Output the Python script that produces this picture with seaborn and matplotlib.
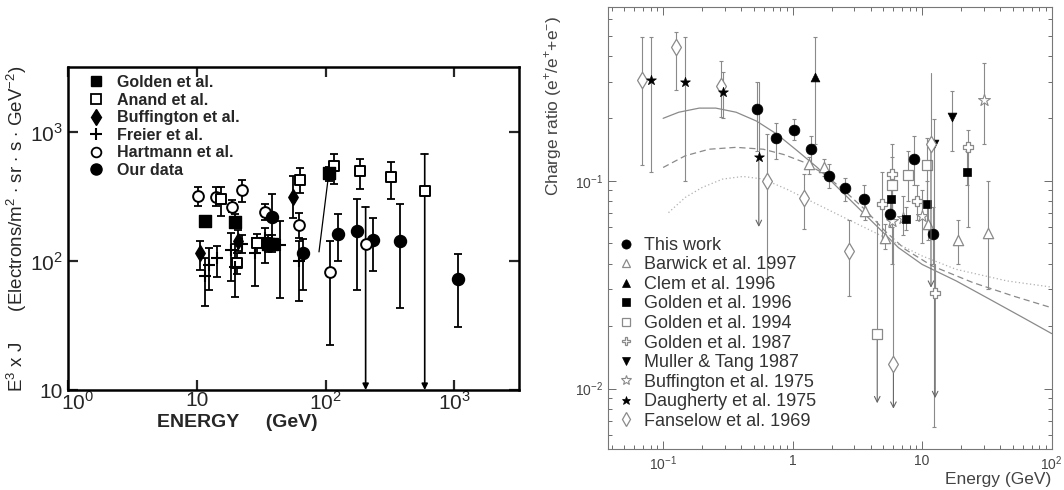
import numpy as np
import matplotlib
matplotlib.use('Agg')
import matplotlib.pyplot as plt
import matplotlib.transforms as mtransforms
from matplotlib.lines import Line2D
import seaborn as sns

sns.set_style('ticks')
plt.rcParams['font.family'] = ['Liberation Sans', 'DejaVu Sans']
plt.rcParams['mathtext.fontset'] = 'custom'
plt.rcParams['mathtext.rm'] = 'Liberation Sans'

# ---------------- left panel data: E^3 x J vs energy ----------------
golden_x = [11.5, 19.7, 35.5, 38.5, 106]
golden_y = [205, 203, 137, 137, 479]
golden_lo = [187, 182, 118, 118, 420]
golden_hi = [224, 231, 160, 160, 540]

anand_x = [15.5, 20.5, 29.4, 63.8, 116, 187, 321]
anand_y = [303, 97, 139, 426, 550, 497, 446]
anand_lo = [224, 80, 116, 340, 396, 362, 303]
anand_hi = [373, 115, 161, 524, 678, 619, 583]

buff_x = [10.6, 20.8, 55.6]
buff_y = [115, 143, 315]
buff_lo = [86, 120, 218]
buff_hi = [143, 175, 459]

freier_x = [11.6, 12.5, 14.3, 18.5, 19.9, 22.4, 28.1, 34, 44.6, 62]
freier_y = [76.5, 94, 105, 123, 90, 136, 115, 152, 133, 100]
freier_lo = [45, 60, 76, 70, 53, 115, 64, 97, 52, 49]
freier_hi = [106, 127, 131, 166, 135, 160, 152, 182, 205, 143]

hart_x = [10.2, 14.1, 18.7, 22.4, 34, 62.7, 108]
hart_y = [321, 317, 265, 356, 241, 191, 82.6]
hart_lo = [268, 268, 240, 290, 210, 150, 22.5]
hart_hi = [375, 375, 300, 425, 280, 235, 143]

ours_x = [38.4, 66.5, 126, 177, 235, 379, 1069]
ours_y = [221, 116, 161, 171, 146, 143, 73]
ours_lo = [135, 60, 100, 60, 84, 43, 31]
ours_hi = [330, 148, 231, 302, 218, 276, 114]

# points with a downward arrow to the axis
left_arrow_x = [205, 590]
left_arrow_y = [135, 351]
left_arrow_hi = [262, 678]
left_arrow_mk = ['o', 's']

# thin connecting line near 100 GeV
link_x = [89, 106]
link_y = [118, 479]

# ---------------- right panel data: positron fraction ----------------
tw_x = [0.53, 0.74, 1.03, 1.39, 1.9, 2.52, 3.58, 5.6, 8.6, 12.2]
tw_y = [0.222, 0.16, 0.176, 0.143, 0.106, 0.092, 0.082, 0.0696, 0.128, 0.0557]
tw_lo = [0.14, 0.128, 0.158, 0.12, 0.092, 0.08, 0.07, 0.06, 0.095, 0.04]
tw_hi = [0.30, 0.19, 0.198, 0.165, 0.12, 0.103, 0.095, 0.08, 0.165, 0.075]

barwick_x = [1.34, 1.74, 3.6, 5.16, 11.0, 18.8, 32.3]
barwick_y = [0.12, 0.117, 0.0717, 0.0532, 0.0618, 0.0518, 0.0564]
barwick_lo = [0.108, 0.105, 0.065, 0.047, 0.052, 0.04, 0.03]
barwick_hi = [0.13, 0.127, 0.078, 0.062, 0.075, 0.065, 0.1]

clem_x = [1.5]
clem_y = [0.315]
clem_lo = [0.15]
clem_hi = [0.495]

g96_x = [5.75, 7.5, 10.9, 22.3]
g96_y = [0.0816, 0.0658, 0.0772, 0.11]
g96_lo = [0.065, 0.058, 0.06, 0.095]
g96_hi = [0.1, 0.075, 0.1, 0.14]

g94_x = [5.8, 7.73, 10.9]
g94_y = [0.0953, 0.1066, 0.119]
g94_lo = [0.06, 0.08, 0.08]
g94_hi = [0.13, 0.14, 0.16]

g87_x = [4.9, 5.85, 9.12, 22.5]
g87_y = [0.0772, 0.108, 0.080, 0.146]
g87_lo = [0.05, 0.07, 0.065, 0.06]
g87_hi = [0.11, 0.15, 0.095, 0.175]

muller_x = [12.3, 17.1]
muller_y = [0.15, 0.204]
muller_lo = [0.0065, 0.14]
muller_hi = [0.198, 0.27]

buff75_x = [5.9, 7.07, 9.9, 29.9]
buff75_y = [0.064, 0.0665, 0.0678, 0.246]
buff75_lo = [0.04, 0.055, 0.05, 0.15]
buff75_hi = [0.08, 0.085, 0.09, 0.37]

daug_x = [0.0805, 0.1486, 0.292]
daug_y = [0.307, 0.298, 0.268]
daug_lo = [0.11, 0.10, 0.20]
daug_hi = [0.495, 0.495, 0.336]

fans_x = [0.0689, 0.1257, 0.281, 0.63, 1.22, 2.7]
fans_y = [0.306, 0.443, 0.287, 0.10, 0.083, 0.046]
fans_lo = [0.119, 0.274, 0.202, 0.034, 0.0585, 0.028]
fans_hi = [0.495, 0.52, 0.379, 0.169, 0.108, 0.0646]

# upper limits drawn as arrows: (x, y, top of bar, arrow tip, marker key)
ul_x = [0.548, 4.5, 6.0, 12.6, 11.7]
ul_y = [0.13, 0.0184, 0.01315, 0.0289, 0.15]
ul_hi = [0.30, 0.064, 0.06, 0.04, 0.33]
ul_tip = [0.06, 0.0085, 0.008, 0.009, 0.0306]
ul_key = ['daug', 'g94', 'fans', 'g87', 'fans']

# model curves
curve_solid_x = [0.1, 0.132, 0.19, 0.255, 0.366, 0.526, 0.754, 1.08, 1.55, 2.22,
                 3.19, 4.58, 6.56, 10, 18.3, 33.3, 60.6, 100]
curve_solid_y = [0.2, 0.214, 0.224, 0.224, 0.214, 0.194, 0.168, 0.14, 0.116, 0.093,
                 0.0744, 0.0596, 0.0477, 0.0396, 0.033, 0.0269, 0.0219, 0.0184]
curve_dash_x = [0.1, 0.148, 0.226, 0.366, 0.593, 0.85, 1.22, 1.75, 2.51, 3.6,
                5.16, 7.4, 12, 24.6, 50.5, 100]
curve_dash_y = [0.116, 0.132, 0.142, 0.145, 0.142, 0.134, 0.123, 0.108, 0.0895, 0.073,
                0.0574, 0.0468, 0.0389, 0.0324, 0.0279, 0.0245]
curve_dot_x = [0.11, 0.148, 0.2, 0.288, 0.413, 0.593, 0.9, 1.375, 2.22, 3.6,
               5.83, 10, 18.3, 45, 100]
curve_dot_y = [0.0703, 0.0832, 0.0929, 0.102, 0.105, 0.102, 0.0912, 0.080, 0.069, 0.0596,
               0.0514, 0.0435, 0.0375, 0.033, 0.0308]

GRAY = '#8a8a8a'


def draw(ax, x, y, lo, hi, marker, face, edge, size, ecolor, elw=1.2, cap=0, lw=1.0, z=3):
    x = np.asarray(x, float)
    y = np.asarray(y, float)
    err = [y - np.asarray(lo), np.asarray(hi) - y]
    ax.errorbar(x, y, yerr=err, fmt='none', ecolor=ecolor, elinewidth=elw,
                capsize=cap, capthick=elw, zorder=2)
    if marker in ['+', 'x']:
        sns.scatterplot(x=x, y=y, ax=ax, marker=marker, s=size, color=edge,
                        linewidth=lw, zorder=z, legend=False)
    else:
        sns.scatterplot(x=x, y=y, ax=ax, marker=marker, s=size, color=face,
                        edgecolor=edge, linewidth=lw, zorder=z, legend=False)


fig = plt.figure(figsize=(10.64, 4.9), dpi=100)
ax1 = fig.add_axes([0.064, 0.204, 0.424, 0.659])
ax2 = fig.add_axes([0.5714, 0.083, 0.4170, 0.9035])

# ---------------- left panel ----------------
ax1.set_xscale('log')
ax1.set_yscale('log')
ax1.set_xlim(1, 3200)
ax1.set_ylim(10, 3200)

ax1.plot(link_x, link_y, color='black', lw=0.9, zorder=2)
draw(ax1, hart_x, hart_y, hart_lo, hart_hi, 'o', 'white', 'black', 60, 'black', 1.3, 3, 1.4)
draw(ax1, anand_x, anand_y, anand_lo, anand_hi, 's', 'white', 'black', 60, 'black', 1.3, 3, 1.4)
draw(ax1, golden_x, golden_y, golden_lo, golden_hi, 's', 'black', 'black', 65, 'black', 1.3, 3, 1.0)
draw(ax1, buff_x, buff_y, buff_lo, buff_hi, 'd', 'black', 'black', 65, 'black', 1.3, 3, 1.0)
draw(ax1, freier_x, freier_y, freier_lo, freier_hi, '+', 'black', 'black', 75, 'black', 1.3, 3, 1.5)
draw(ax1, ours_x, ours_y, ours_lo, ours_hi, 'o', 'black', 'black', 75, 'black', 1.3, 3, 1.0)

for x, y, hi, mk in zip(left_arrow_x, left_arrow_y, left_arrow_hi, left_arrow_mk):
    ax1.annotate('', xy=(x, 10), xytext=(x, hi),
                 arrowprops=dict(arrowstyle='-|>', color='black', lw=1.2,
                                 mutation_scale=9, shrinkA=0, shrinkB=0))
    ax1.plot([x - x * 0.06, x + x * 0.06], [hi, hi], color='black', lw=1.3)
    sns.scatterplot(x=[x], y=[y], ax=ax1, marker=mk, s=60, color='white',
                    edgecolor='black', linewidth=1.4, zorder=4, legend=False)

ax1.set_xticks([1, 10, 100, 1000])
ax1.set_xticklabels(['$10^0$', '10', '$10^2$', '$10^3$'])
ax1.set_yticks([10, 100, 1000])
ax1.set_yticklabels(['10', '$10^2$', '$10^3$'])
ax1.minorticks_off()
ax1.tick_params(which='major', direction='in', length=7, width=1.6, labelsize=15,
                top=True, right=True)
ax1.tick_params(axis='x', pad=1)
ax1.tick_params(axis='y', pad=4)
for s in ax1.spines.values():
    s.set_linewidth(1.8)
    s.set_color('black')
# the 10^0 label sits a little to the right of the corner, as in the original
first_lab = ax1.get_xticklabels()[0]
first_lab.set_transform(first_lab.get_transform() +
                        mtransforms.ScaledTranslation(9 / 100, 0, fig.dpi_scale_trans))

ax1.set_ylabel('E$^3$ x J      (Electrons/m$^2$ $\\cdot$ sr $\\cdot$ s $\\cdot$ GeV$^{-2}$)',
               fontsize=13.5)
ax1.yaxis.set_label_coords(-0.086, 0.5)
ax1.set_xlabel('ENERGY     (GeV)', fontsize=14, fontweight='bold')
ax1.xaxis.set_label_coords(0.375, -0.075)

lh1 = [
    Line2D([], [], marker='s', ls='none', color='black', markersize=7),
    Line2D([], [], marker='s', ls='none', mfc='white', mec='black', markersize=7, mew=1.3),
    Line2D([], [], marker='d', ls='none', color='black', markersize=8),
    Line2D([], [], marker='+', ls='none', color='black', markersize=9, mew=1.5),
    Line2D([], [], marker='o', ls='none', mfc='white', mec='black', markersize=7, mew=1.3),
    Line2D([], [], marker='o', ls='none', color='black', markersize=8),
]
ll1 = ['Golden et al.', 'Anand et al.', 'Buffington et al.', 'Freier et al.',
       'Hartmann et al.', 'Our data']
leg1 = ax1.legend(lh1, ll1, loc='upper left', bbox_to_anchor=(0.016, 1.015), frameon=False,
                  prop={'size': 11.5, 'weight': 'bold'}, handlelength=1.0,
                  handletextpad=0.8, labelspacing=0.16, borderaxespad=0.4)

# ---------------- right panel ----------------
ax2.set_xscale('log')
ax2.set_yscale('log')
ax2.set_xlim(0.0375, 100)
ax2.set_ylim(0.0051, 0.69)

ax2.plot(curve_solid_x, curve_solid_y, color=GRAY, lw=0.9, ls='-', zorder=1)
ax2.plot(curve_dash_x, curve_dash_y, color=GRAY, lw=0.9, ls=(0, (5, 3)), zorder=1)
ax2.plot(curve_dot_x, curve_dot_y, color='#b0b0b0', lw=0.9, ls=(0, (1, 2)), zorder=1)

styles = {
    'tw': ('o', 'black', 'black', 60, 0.5),
    'barwick': ('^', 'white', GRAY, 55, 0.9),
    'clem': ('^', 'black', 'black', 40, 0.5),
    'g96': ('s', 'black', 'black', 40, 0.5),
    'g94': ('s', 'white', GRAY, 45, 0.9),
    'g87': ('P', 'white', GRAY, 55, 0.9),
    'muller': ('v', 'black', 'black', 40, 0.5),
    'buff75': ('*', 'white', GRAY, 80, 0.8),
    'daug': ('*', 'black', 'black', 55, 0.5),
    'fans': ('d', 'white', GRAY, 70, 0.9),
}

series = [
    ('fans', fans_x, fans_y, fans_lo, fans_hi),
    ('daug', daug_x, daug_y, daug_lo, daug_hi),
    ('buff75', buff75_x, buff75_y, buff75_lo, buff75_hi),
    ('muller', muller_x, muller_y, muller_lo, muller_hi),
    ('g87', g87_x, g87_y, g87_lo, g87_hi),
    ('g94', g94_x, g94_y, g94_lo, g94_hi),
    ('g96', g96_x, g96_y, g96_lo, g96_hi),
    ('clem', clem_x, clem_y, clem_lo, clem_hi),
    ('barwick', barwick_x, barwick_y, barwick_lo, barwick_hi),
    ('tw', tw_x, tw_y, tw_lo, tw_hi),
]
for key, x, y, lo, hi in series:
    mk, fc, ec, sz, lw = styles[key]
    draw(ax2, x, y, lo, hi, mk, fc, ec, sz, GRAY, 0.8, 1.5, lw)

for x, y, hi, tip, key in zip(ul_x, ul_y, ul_hi, ul_tip, ul_key):
    mk, fc, ec, sz, lw = styles[key]
    ax2.plot([x, x], [y, hi], color=GRAY, lw=0.8, zorder=2)
    ax2.annotate('', xy=(x, tip), xytext=(x, y),
                 arrowprops=dict(arrowstyle='->', color='#666666', lw=0.8,
                                 mutation_scale=10, shrinkA=0, shrinkB=0))
    sns.scatterplot(x=[x], y=[y], ax=ax2, marker=mk, s=sz, color=fc,
                    edgecolor=ec, linewidth=lw, zorder=4, legend=False)

ax2.set_xticks([0.1, 1, 10, 100])
ax2.set_xticklabels(['$10^{-1}$', '1', '10', '$10^2$'])
ax2.set_yticks([0.01, 0.1])
ax2.set_yticklabels(['$10^{-2}$', '$10^{-1}$'])
ax2.tick_params(which='major', direction='in', length=6, width=0.6, labelsize=10,
                top=True, right=True, colors='#555555', labelcolor='#444444')
ax2.tick_params(which='minor', direction='in', length=3, width=0.6,
                top=True, right=True, colors='#555555')
for s in ax2.spines.values():
    s.set_linewidth(0.8)
    s.set_color('#777777')

ax2.set_xlabel('Energy (GeV)', fontsize=12.5, color='#444444')
ax2.xaxis.set_label_coords(1.0, -0.052)
ax2.xaxis.label.set_ha('right')
ax2.set_ylabel('Charge ratio (e$^{+}$/e$^{+}$+e$^{-}$)', fontsize=12.5, color='#444444')
ax2.yaxis.set_label_coords(-0.1, 0.98)
ax2.yaxis.label.set_va('bottom')
ax2.yaxis.label.set_ha('right')

lh2 = []
for key in ['tw', 'barwick', 'clem', 'g96', 'g94', 'g87', 'muller', 'buff75', 'daug', 'fans']:
    mk, fc, ec, sz, lw = styles[key]
    lh2.append(Line2D([], [], marker=mk, ls='none', mfc=fc, mec=ec, mew=lw,
                      markersize=np.sqrt(sz) * 0.85))
ll2 = ['This work', 'Barwick et al. 1997', 'Clem et al. 1996', 'Golden et al. 1996',
       'Golden et al. 1994', 'Golden et al. 1987', 'Muller & Tang 1987',
       'Buffington et al. 1975', 'Daugherty et al. 1975', 'Fanselow et al. 1969']
leg2 = ax2.legend(lh2, ll2, loc='lower left', bbox_to_anchor=(0.0, 0.02), frameon=False,
                  prop={'size': 13}, handlelength=0.8, handletextpad=0.6,
                  labelspacing=0.14, borderaxespad=0.2)
for t in leg2.get_texts():
    t.set_color('#333333')

fig.savefig('out.png', dpi=100)
